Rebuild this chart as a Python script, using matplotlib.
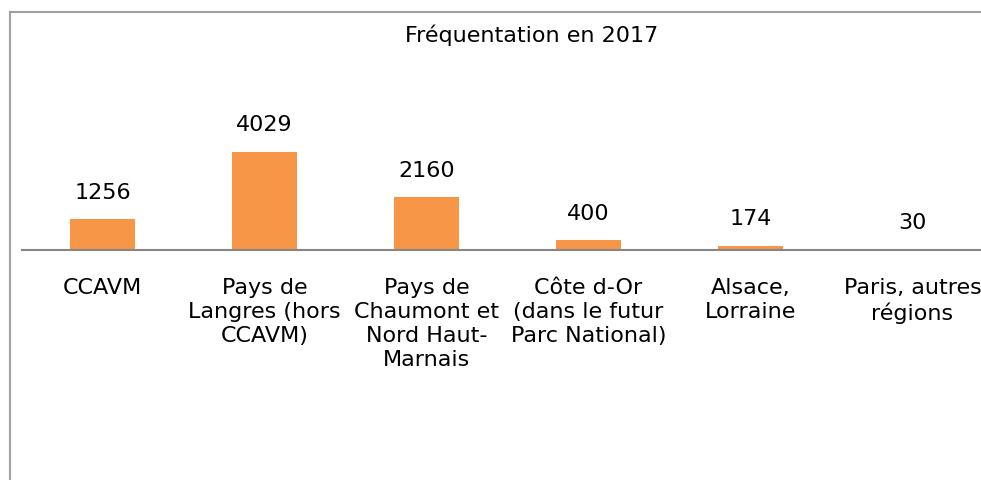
import matplotlib
matplotlib.use("Agg")
import matplotlib.pyplot as plt
from matplotlib.lines import Line2D

categories = [
    "CCAVM",
    "Pays de\nLangres (hors\nCCAVM)",
    "Pays de\nChaumont et\nNord Haut-\nMarnais",
    "Côte d-Or\n(dans le futur\nParc National)",
    "Alsace,\nLorraine",
    "Paris, autres\nrégions",
]
values = [1256, 4029, 2160, 400, 174, 30]
title = "Fréquentation en 2017"

W, H, DPI = 981, 480, 100
FONT = ["DejaVu Sans"]
FS = 16
BAR_COLOR = "#F79646"
AXIS_COLOR = "#868686"
FRAME_COLOR = "#A0A0A0"

plt.rcParams["font.family"] = FONT
fig = plt.figure(figsize=(W / DPI, H / DPI), dpi=DPI)

# plot area in pixels (from top-left)
left_px, right_px = 21.5, 993.5
base_px, top_px = 250.0, 50.0
ax = fig.add_axes([left_px / W, (H - base_px) / H,
                   (right_px - left_px) / W, (base_px - top_px) / H])
ax.set_xlim(-0.5, len(values) - 0.5)
ax.set_ylim(0, 41 * (base_px - top_px))

x = range(len(values))
ax.bar(x, values, width=0.40, color=BAR_COLOR, zorder=2)

for xi, v in zip(x, values):
    ax.annotate(str(v), (xi, v), xytext=(0, 19), textcoords="offset points",
                ha="center", va="center", fontsize=FS, color="#000000")

for xi, lab in zip(x, categories):
    ax.annotate(lab, (xi, 0), xytext=(0, -20), textcoords="offset points",
                ha="center", va="top", fontsize=FS, color="#000000",
                linespacing=1.25)

for s in ["top", "right", "left"]:
    ax.spines[s].set_visible(False)
ax.spines["bottom"].set_color(AXIS_COLOR)
ax.spines["bottom"].set_linewidth(1.5)
ax.set_xticks([])
ax.set_yticks([])
ax.patch.set_visible(False)

fig.text(532 / W, 1 - 35 / H, title, ha="center", va="center", fontsize=FS)

# chart frame (left and top edges)
fig.add_artist(Line2D([9.5 / W, 9.5 / W], [0, 1 - 12 / H], color=FRAME_COLOR, lw=1.5))
fig.add_artist(Line2D([9.5 / W, 1], [1 - 12 / H, 1 - 12 / H], color=FRAME_COLOR, lw=1.5))

fig.savefig("out.png", dpi=DPI, facecolor="white")
